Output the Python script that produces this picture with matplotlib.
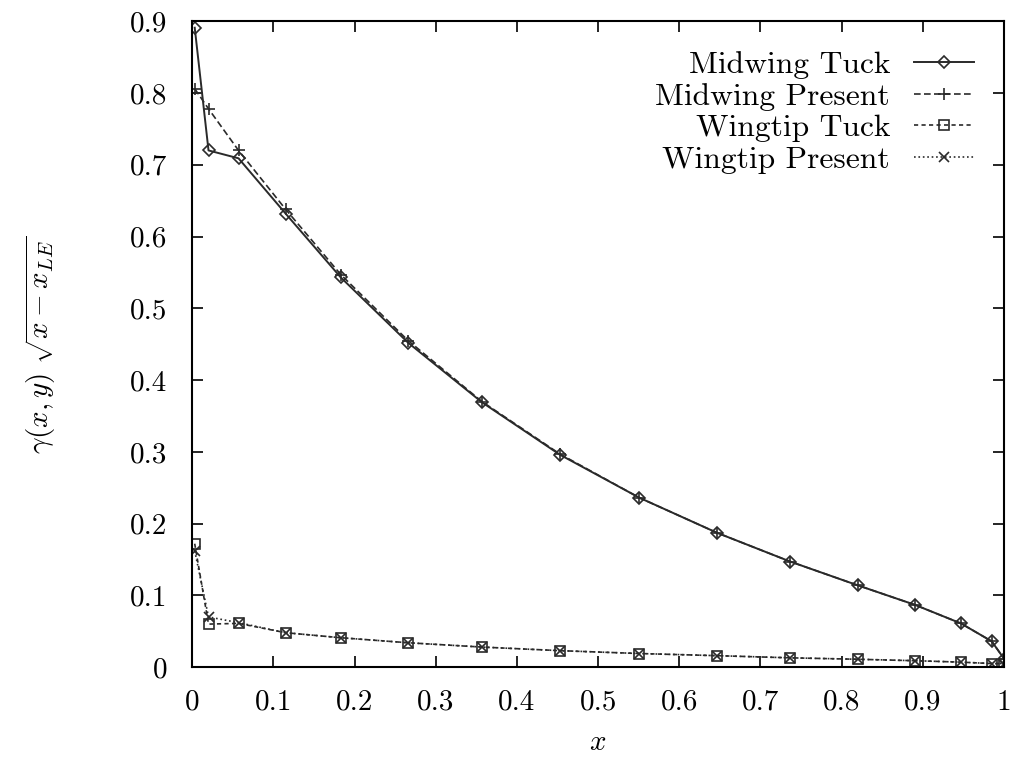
import matplotlib
matplotlib.use("Agg")
import matplotlib.pyplot as plt
from matplotlib.ticker import FuncFormatter, MultipleLocator

plt.rcParams['font.family'] = 'serif'
plt.rcParams['font.serif'] = ['cmr10']
plt.rcParams['mathtext.fontset'] = 'cm'
plt.rcParams['axes.formatter.use_mathtext'] = True

# chordwise stations
x_mid = [0.003, 0.02, 0.057, 0.115, 0.183, 0.266, 0.357, 0.453, 0.551,
         0.647, 0.737, 0.82, 0.89, 0.947, 0.985, 1.0]

midwing_tuck = [0.891, 0.720, 0.709, 0.632, 0.543, 0.452, 0.369, 0.296,
                0.236, 0.187, 0.147, 0.114, 0.087, 0.061, 0.036, 0.012]
midwing_present = [0.806, 0.778, 0.720, 0.638, 0.547, 0.455, 0.370, 0.297,
                   0.236, 0.187, 0.147, 0.114, 0.087, 0.061, 0.036, 0.012]
wingtip_tuck = [0.172, 0.060, 0.061, 0.048, 0.041, 0.034, 0.028, 0.023,
                0.019, 0.016, 0.013, 0.011, 0.009, 0.007, 0.005, 0.005]
wingtip_present = [0.162, 0.070, 0.062, 0.048, 0.041, 0.034, 0.028, 0.023,
                   0.019, 0.016, 0.013, 0.011, 0.009, 0.007, 0.005, 0.005]

fig = plt.figure(figsize=(10.12, 7.59), dpi=100)
ax = fig.add_axes([0.19, 0.121, 0.802, 0.851])

c = '#2a2a2a'
ax.plot(x_mid, midwing_tuck, '-', color=c, lw=1.4, marker='D', ms=6,
        mfc='none', mew=1.2, label='Midwing Tuck')
ax.plot(x_mid, midwing_present, '--', color=c, lw=1.2, marker='+', ms=9,
        mew=1.2, dashes=(4, 2), label='Midwing Present')
ax.plot(x_mid, wingtip_tuck, '--', color=c, lw=1.2, marker='s', ms=7,
        mfc='none', mew=1.2, dashes=(2.5, 2), label='Wingtip Tuck')
ax.plot(x_mid, wingtip_present, ':', color=c, lw=1.2, marker='x', ms=7,
        mew=1.2, label='Wingtip Present')

ax.set_xlim(0, 1)
ax.set_ylim(0, 0.9)
ax.xaxis.set_major_locator(MultipleLocator(0.1))
ax.yaxis.set_major_locator(MultipleLocator(0.1))
fmt = FuncFormatter(lambda v, p: '%g' % round(v, 2))
ax.xaxis.set_major_formatter(fmt)
ax.yaxis.set_major_formatter(fmt)
ax.tick_params(direction='in', length=8, width=1.2, top=True, right=True,
               labelsize=21)
ax.tick_params(axis='x', pad=16)
ax.tick_params(axis='y', pad=18)
for s in ax.spines.values():
    s.set_linewidth(1.5)

ax.set_xlabel(r'$x$', fontsize=21, labelpad=10)
ax.set_ylabel(r'$\gamma(x,y)\ \sqrt{x - x_{LE}}$', fontsize=21, labelpad=52)

leg = ax.legend(loc='upper right', frameon=False, markerfirst=False,
                fontsize=22.7, handlelength=1.9, labelspacing=0.11,
                borderaxespad=0.55, handletextpad=0.76)

fig.savefig('out.png', dpi=100)
